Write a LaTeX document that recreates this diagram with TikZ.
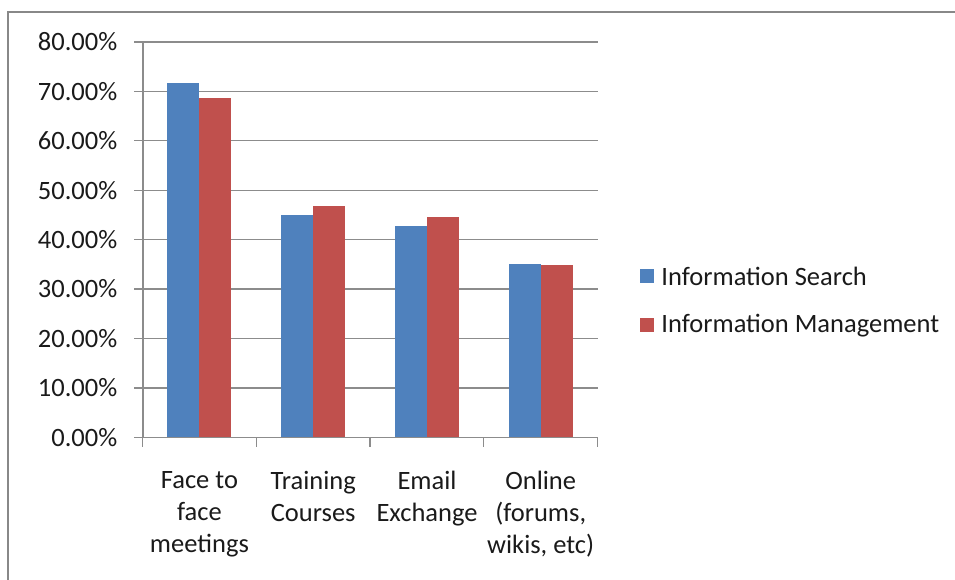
\documentclass[tikz,border=0pt]{standalone}
\usepackage{fontspec}
\setmainfont{Carlito}
\usetikzlibrary{positioning}
\definecolor{seriesA}{HTML}{4F81BD}
\definecolor{seriesB}{HTML}{C0504D}
\definecolor{gridgray}{HTML}{8C8C8C}
\definecolor{framegray}{HTML}{888888}
\definecolor{textgray}{HTML}{1A1A1A}

\begin{document}
\begin{tikzpicture}[x=1pt,y=-1pt,
  gridline/.style={draw=gridgray, line width=1.3pt},
  axisline/.style={draw=gridgray, line width=1.3pt},
  chartfont/.style={font=\fontsize{26.5}{32}\selectfont, text=textgray, inner sep=0pt},
  catlabel/.style={chartfont, align=center, anchor=north},
  keybox/.style={minimum size=14pt, inner sep=0pt}]
\useasboundingbox (0,0) rectangle (955,580);
% outer frame, right and bottom edges fall outside
\draw[framegray, line width=2pt] (8,580) -- (8,12) -- (955,12);
% gridlines with value labels
\foreach \v/\txt in {0/0.00,1/10.00,2/20.00,3/30.00,4/40.00,5/50.00,6/60.00,7/70.00,8/80.00} {
    \pgfmathsetmacro\gy{437.3-49.41*\v}
    \draw[gridline] (134,\gy) -- (597.5,\gy);
    \node[chartfont, anchor=east] (val\v) at (117.5,\gy) {\txt\%};
}
% bars: search (blue) left, management (red) right
\foreach \c/\a/\b in {0/71.8/68.6, 1/45.0/46.8, 2/42.7/44.5, 3/35.1/34.9} {
    \pgfmathsetmacro\cx{199.4+113.75*\c}
    \pgfmathsetmacro\ta{437.3-4.941*\a}
    \pgfmathsetmacro\tb{437.3-4.941*\b}
    \fill[seriesA] ({\cx-32},437.3) rectangle (\cx,\ta);
    \fill[seriesB] (\cx,437.3) rectangle ({\cx+32},\tb);
}
% axes and category ticks
\draw[axisline] (143,42) -- (143,437.3) -- (597.5,437.3);
\foreach \k in {0,...,4} {
    \pgfmathsetmacro\tx{142.5+113.75*\k}
    \draw[axisline] (\tx,437.3) -- (\tx,446.7);
}
\node[catlabel] (face) at (199.4,471) {Face to\\face\\meetings};
\node[catlabel] (train) at (313.2,471) {Training\\Courses};
\node[catlabel] (email) at (427,471) {Email\\Exchange};
\node[catlabel] (online) at (540.7,471) {Online\\(forums,\\wikis, etc)};
% legend
\node[keybox, fill=seriesA] (keyA) at (647,276.3) {};
\node[keybox, fill=seriesB] (keyB) at (647,325.3) {};
\node[chartfont, anchor=west, right=7pt of keyA] (nameA) {Information Search};
\node[chartfont, anchor=west, right=7pt of keyB] (nameB) {Information Management};
\end{tikzpicture}
\end{document}
